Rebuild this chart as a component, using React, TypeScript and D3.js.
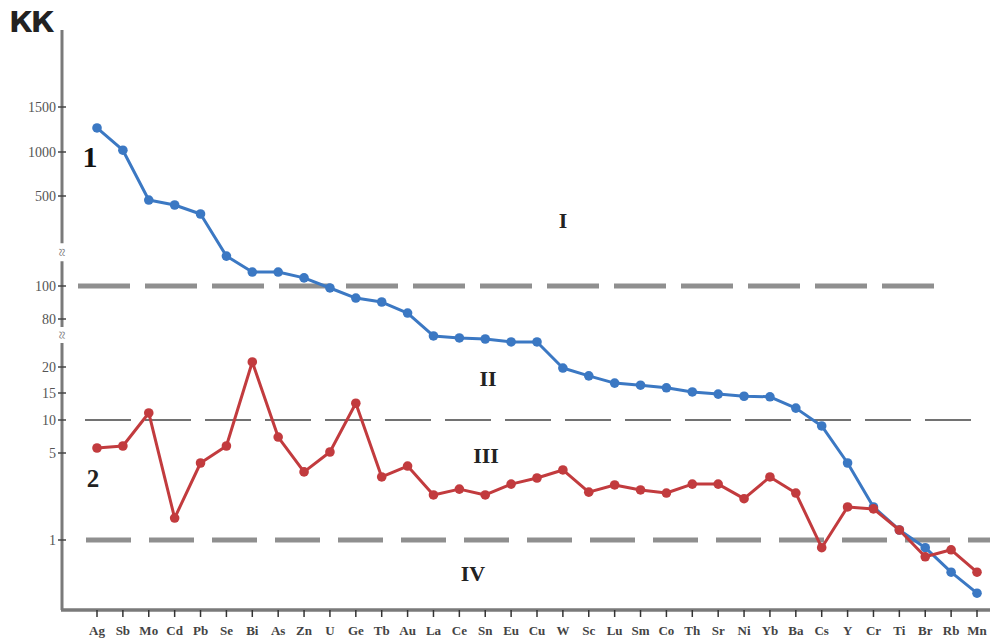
import { useRef, useEffect } from 'react'
import * as d3 from 'd3'

const elements = ['Ag', 'Sb', 'Mo', 'Cd', 'Pb', 'Se', 'Bi', 'As', 'Zn', 'U', 'Ge', 'Tb', 'Au', 'La', 'Ce', 'Sn', 'Eu', 'Cu', 'W', 'Sc', 'Lu', 'Sm', 'Co', 'Th', 'Sr', 'Ni', 'Yb', 'Ba', 'Cs', 'Y', 'Cr', 'Ti', 'Br', 'Rb', 'Mn']

// series 1 (blue)
const series1 = [1267, 1020, 482, 460, 420, 233, 162, 162, 136, 98.8, 92.7, 90.3, 83.6, 58.8, 56.3, 55, 51.3, 51.3, 19.8, 18.3, 16.9, 16.5, 16.0, 15.2, 14.8, 14.4, 14.3, 12.2, 9.1, 4.54, 2.52, 1.46, 0.89, 0.54, 0.24]

// series 2 (red)
const series2 = [5.76, 6.06, 11.3, 2.01, 4.54, 6.06, 26.3, 7.42, 4.13, 5.15, 13.1, 3.9, 4.4, 3.07, 3.34, 3.07, 3.57, 3.85, 4.22, 3.2, 3.53, 3.3, 3.16, 3.57, 3.57, 2.9, 3.9, 3.16, 0.89, 2.52, 2.43, 1.46, 0.76, 0.86, 0.54]

const yTicks = [1, 5, 10, 15, 20, 80, 100, 500, 1000, 1500]
// broken axis: domain breakpoints
const yBreaks = [0, 1, 5, 10, 15, 20, 80, 100, 500, 1000, 1500]
const breakMarks = [60, 250] // values where the axis is broken

const zones = [
  { label: 'I', value: 358, at: 'Cu', dx: 26 },
  { label: 'II', value: 16.3, at: 'Cu', dx: -49 },
  { label: 'III', value: 4.54, at: 'Cu', dx: -51 },
  { label: 'IV', value: 0.41, at: 'Cu', dx: -64 },
]

const W = 1000
const H = 639
const margin = { top: 30, right: 10, bottom: 29, left: 62 }

function drawChart(target) {
  const svg = d3.select(target)
  svg.selectAll('*').remove()

  const x = d3
    .scalePoint()
    .domain(elements)
    .range([97, 977])

  const y = d3
    .scaleLinear()
    .domain(yBreaks)
    .range([610, 540, 453, 420, 393, 367, 319, 286, 196, 152, 107])

  const axisColor = '#7a7a7a'
  const serif = '"Liberation Serif", "DejaVu Serif", serif'

  // reference lines
  const refLines = [
    { v: 100, x1: 78, x2: 945, w: 5, color: '#8f8f8f', dash: '52,15' },
    { v: 10, x1: 85, x2: 975, w: 1.6, color: '#444', dash: '46,14' },
    { v: 1, x1: 86, x2: 990, w: 5, color: '#8f8f8f', dash: '45,18' },
  ]
  svg
    .selectAll('.ref')
    .data(refLines)
    .enter()
    .append('line')
    .attr('x1', (d) => d.x1)
    .attr('x2', (d) => d.x2)
    .attr('y1', (d) => y(d.v))
    .attr('y2', (d) => y(d.v))
    .attr('stroke', (d) => d.color)
    .attr('stroke-width', (d) => d.w)
    .attr('stroke-dasharray', (d) => d.dash)

  // y axis line with breaks
  const yBottom = 610
  const gaps = breakMarks.map((b) => y(b))
  const segs = [
    [margin.top, gaps[1] - 9],
    [gaps[1] + 9, gaps[0] - 8],
    [gaps[0] + 8, yBottom],
  ]
  svg
    .selectAll('.yseg')
    .data(segs)
    .enter()
    .append('line')
    .attr('x1', margin.left)
    .attr('x2', margin.left)
    .attr('y1', (d) => d[0])
    .attr('y2', (d) => d[1])
    .attr('stroke', axisColor)
    .attr('stroke-width', 3)

  svg
    .selectAll('.brk')
    .data(gaps)
    .enter()
    .append('text')
    .attr('x', margin.left)
    .attr('y', (d) => d + 5)
    .attr('text-anchor', 'middle')
    .attr('font-family', serif)
    .attr('font-size', 15)
    .attr('fill', '#777')
    .attr('transform', (d) => `rotate(90, ${margin.left}, ${d})`)
    .text('≈')

  // y ticks
  const yt = svg.append('g')
  yt.selectAll('line')
    .data(yTicks)
    .enter()
    .append('line')
    .attr('x1', margin.left - 4)
    .attr('x2', margin.left + 4)
    .attr('y1', (d) => y(d))
    .attr('y2', (d) => y(d))
    .attr('stroke', '#444')
    .attr('stroke-width', 1.5)
  yt.selectAll('text')
    .data(yTicks)
    .enter()
    .append('text')
    .attr('x', margin.left - 6)
    .attr('y', (d) => y(d) + 5)
    .attr('text-anchor', 'end')
    .attr('font-family', serif)
    .attr('font-size', 14)
    .attr('fill', '#555')
    .text((d) => d)

  // x axis
  svg
    .append('line')
    .attr('x1', margin.left - 1)
    .attr('x2', 990)
    .attr('y1', yBottom)
    .attr('y2', yBottom)
    .attr('stroke', axisColor)
    .attr('stroke-width', 3.5)

  const xt = svg.append('g')
  xt.selectAll('line')
    .data(elements)
    .enter()
    .append('line')
    .attr('x1', (d) => x(d))
    .attr('x2', (d) => x(d))
    .attr('y1', yBottom)
    .attr('y2', yBottom + 7)
    .attr('stroke', '#333')
    .attr('stroke-width', 1.5)
  xt.selectAll('text')
    .data(elements)
    .enter()
    .append('text')
    .attr('x', (d) => x(d))
    .attr('y', 635)
    .attr('text-anchor', 'middle')
    .attr('font-family', serif)
    .attr('font-weight', 'bold')
    .attr('font-size', 13)
    .attr('fill', '#444')
    .text((d) => d)

  // series
  const seriesList = [
    { values: series1, color: '#3b78c3' },
    { values: series2, color: '#c23b3e' },
  ]
  const line = d3
    .line()
    .x((d) => x(d.name))
    .y((d) => y(d.value))

  seriesList.forEach((s) => {
    const pts = elements.map((name, i) => ({ name, value: s.values[i] }))
    const g = svg.append('g')
    g.append('path')
      .attr('d', line(pts))
      .attr('fill', 'none')
      .attr('stroke', s.color)
      .attr('stroke-width', 3)
      .attr('stroke-linejoin', 'round')
    g.selectAll('circle')
      .data(pts)
      .enter()
      .append('circle')
      .attr('cx', (d) => x(d.name))
      .attr('cy', (d) => y(d.value))
      .attr('r', 4.8)
      .attr('fill', s.color)
  })

  // zone labels
  svg
    .selectAll('.zone')
    .data(zones)
    .enter()
    .append('text')
    .attr('x', (d) => x(d.at) + d.dx)
    .attr('y', (d) => y(d.value))
    .attr('text-anchor', 'middle')
    .attr('font-family', serif)
    .attr('font-weight', 'bold')
    .attr('font-size', 22)
    .attr('fill', '#222')
    .text((d) => d.label)

  // series labels
  svg
    .append('text')
    .attr('x', 90)
    .attr('y', 167)
    .attr('text-anchor', 'middle')
    .attr('font-family', serif)
    .attr('font-weight', 'bold')
    .attr('font-size', 30)
    .attr('fill', '#111')
    .text('1')
  svg
    .append('text')
    .attr('x', 93)
    .attr('y', 487)
    .attr('text-anchor', 'middle')
    .attr('font-family', serif)
    .attr('font-weight', 'bold')
    .attr('font-size', 25)
    .attr('fill', '#222')
    .text('2')

  // axis title
  svg
    .append('text')
    .attr('x', 9)
    .attr('y', 32)
    .attr('font-family', '"DejaVu Sans", sans-serif')
    .attr('font-weight', 'bold')
    .attr('font-size', 29)
    .attr('fill', '#222')
    .attr('letter-spacing', -2)
    .text('КК')
}

export default function App() {
  const targetSVG = useRef(null)

  useEffect(() => {
    drawChart(targetSVG.current)
  }, [])

  return (
    <svg
      ref={targetSVG}
      width={W}
      height={H}
      style={{ position: 'absolute', left: 0, top: 0, background: '#fff' }}
    />
  )
}
